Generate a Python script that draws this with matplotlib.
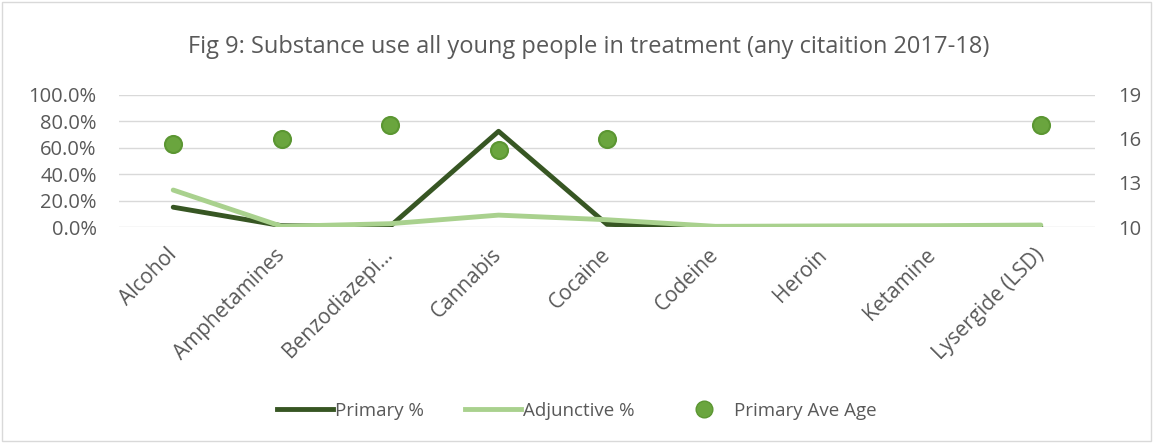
import matplotlib
matplotlib.use("Agg")
import matplotlib.pyplot as plt
import matplotlib.transforms as mtransforms
from matplotlib.ticker import PercentFormatter
from matplotlib.lines import Line2D
from matplotlib.patches import Rectangle

categories = ["Alcohol", "Amphetamines", "Benzodiazepi…", "Cannabis", "Cocaine",
              "Codeine", "Heroin", "Ketamine", "Lysergide (LSD)"]
primary_pct = [0.15, 0.01, 0.005, 0.725, 0.02, 0.0, 0.0, 0.0, 0.005]
adjunctive_pct = [0.28, 0.005, 0.025, 0.09, 0.055, 0.005, 0.008, 0.01, 0.015]
ave_age = [15.66, 16.0, 16.95, 15.25, 16.0, None, None, None, 16.95]
left_ticks = [0, 0.2, 0.4, 0.6, 0.8, 1.0]
right_ticks = [10, 13, 16, 19]

title = "Fig 9: Substance use all young people in treatment (any citaition 2017-18)"

plt.rcParams['font.family'] = ['Open Sans', 'DejaVu Sans']
grey = "#595959"

fig = plt.figure(figsize=(11.53, 4.43), dpi=100)
fig.patches.append(Rectangle((0.002, 0.004), 0.996, 0.992, transform=fig.transFigure,
                             fill=False, edgecolor="#D9D9D9", linewidth=1))

W, H = 1153, 443
ax = fig.add_axes([119 / W, 1 - 227 / H, (1095 - 119) / W, (227 - 95) / H])
x = list(range(len(categories)))

ax.plot(x, primary_pct, color="#375623", lw=3.5, solid_capstyle="round", zorder=3)
ax.plot(x, adjunctive_pct, color="#A9D18E", lw=3.5, solid_capstyle="round", zorder=3)
ax.set_xlim(-0.5, len(categories) - 0.5)
ax.set_ylim(0, 1)
ax.set_yticks(left_ticks)
ax.yaxis.set_major_formatter(PercentFormatter(1.0, decimals=1))
ax.grid(axis="y", color="#D9D9D9", lw=1)
ax.set_axisbelow(True)
for s in ax.spines.values():
    s.set_visible(False)
ax.tick_params(axis="both", length=0, colors=grey, labelsize=14.5)
ax.tick_params(axis="y", pad=16)
ax.set_xticks(x)
ax.set_xticklabels(categories, rotation=45, ha="right", va="center", rotation_mode="anchor",
                   fontsize=15)
ax.tick_params(axis="x", pad=18)

ax2 = ax.twinx()
ax2.set_ylim(10, 19)
ax2.set_yticks(right_ticks)
xs = [i for i, v in enumerate(ave_age) if v is not None]
ys = [v for v in ave_age if v is not None]
ax2.scatter(xs, ys, s=150, color="#6AA53E", edgecolors="#5B9632", linewidths=1.5, zorder=4)
for s in ax2.spines.values():
    s.set_visible(False)
ax2.tick_params(axis="y", which="both", length=0, labelright=False)
trans = mtransforms.blended_transform_factory(ax2.transAxes, ax2.transData) + \
    mtransforms.ScaledTranslation(17 / 72, 0, fig.dpi_scale_trans)
for v in right_ticks:
    ax2.text(1, v, str(v), transform=trans, ha="left", va="center_baseline",
             fontsize=14.5, color=grey, clip_on=False)

fig.text(589 / W, 1 - 47 / H, title, ha="center", va="center", fontsize=17, color=grey)

handles = [Line2D([], [], color="#375623", lw=3.5),
           Line2D([], [], color="#A9D18E", lw=3.5),
           Line2D([], [], color="#6AA53E", marker="o", ls="none", markersize=12,
                  markeredgecolor="#5B9632")]
fig.legend(handles, ["Primary %", "Adjunctive %", "Primary Ave Age"], loc="center",
           bbox_to_anchor=(0.5, 1 - 411 / H), ncol=3, frameon=False, fontsize=13.5,
           labelcolor=grey, handlelength=3, handletextpad=0.1, columnspacing=2.2)

fig.savefig("out.png", dpi=100)
